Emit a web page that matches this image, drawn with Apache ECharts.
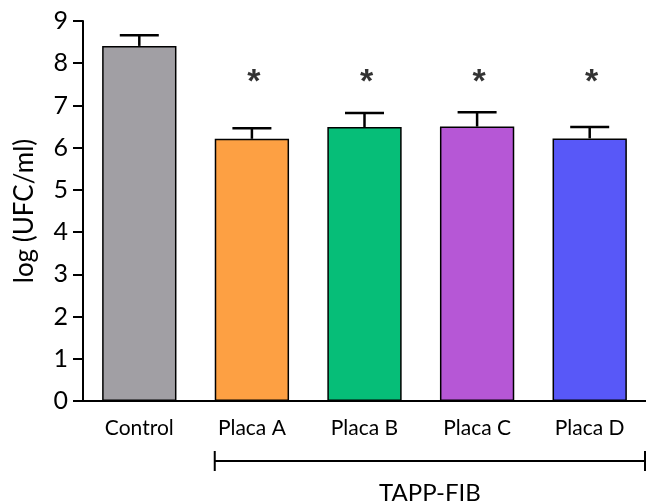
<!DOCTYPE html>
<html>
<head>
<meta charset="utf-8">
<script src="https://cdn.jsdelivr.net/npm/echarts@6/dist/echarts.min.js"></script>
<style>
  html, body { margin: 0; padding: 0; background: #fff; }
  #chart { width: 646px; height: 502px; }
</style>
</head>
<body>
<div id="chart"></div>
<script>
var groups = ['Control', 'Placa A', 'Placa B', 'Placa C', 'Placa D'];
var means = [8.41, 6.21, 6.49, 6.50, 6.22];
var errTop = [8.66, 6.46, 6.82, 6.84, 6.49];
var stars = [null, 7.65, 7.65, 7.65, 7.65];
var colors = ['#a19fa4', '#fda043', '#06be78', '#b657d6', '#5858f8'];
var yTicks = [0, 9, 1]; // min, max, step

var font = 'Lato';
var chart = echarts.init(document.getElementById('chart'));

var barData = [];
for (var i = 0; i < groups.length; i++) {
  barData.push({ value: means[i], itemStyle: { color: colors[i] } });
}
var errData = [];
for (var i = 0; i < groups.length; i++) {
  errData.push([i, means[i], errTop[i]]);
}

chart.setOption({
  animation: false,
  grid: { left: 83, right: -11, top: 21, bottom: 101 },
  xAxis: {
    type: 'category',
    data: groups,
    axisLine: { lineStyle: { color: '#000', width: 2 } },
    axisTick: { alignWithLabel: true, length: 11, lineStyle: { color: '#000', width: 2 } },
    axisLabel: { color: '#000', fontSize: 21, fontFamily: font, margin: 17 }
  },
  yAxis: {
    type: 'value',
    min: yTicks[0], max: yTicks[1], interval: yTicks[2],
    name: 'log (UFC/ml)',
    nameLocation: 'middle',
    nameGap: 45,
    nameTextStyle: { color: '#000', fontSize: 26, fontFamily: font },
    splitLine: { show: false },
    axisLine: { show: true, lineStyle: { color: '#000', width: 2 } },
    axisTick: { show: true, length: 10, lineStyle: { color: '#000', width: 2 } },
    axisLabel: { color: '#000', fontSize: 25, fontFamily: font, margin: 15 }
  },
  series: [
    {
      type: 'bar',
      data: barData,
      barWidth: '66%',
      itemStyle: { borderColor: '#000', borderWidth: 1.5 },
      z: 2
    },
    {
      type: 'custom',
      data: errData,
      z: 3,
      renderItem: function (params, api) {
        var base = api.coord([api.value(0), api.value(1)]);
        var top = api.coord([api.value(0), api.value(2)]);
        var half = 19.5;
        var st = { stroke: '#000', lineWidth: 2.5 };
        return {
          type: 'group',
          children: [
            { type: 'line', shape: { x1: base[0], y1: base[1], x2: top[0], y2: top[1] }, style: st },
            { type: 'line', shape: { x1: top[0] - half, y1: top[1], x2: top[0] + half, y2: top[1] }, style: st }
          ]
        };
      }
    },
    {
      type: 'scatter',
      data: stars,
      symbolSize: 0,
      label: {
        show: true, position: 'inside', formatter: '*',
        color: '#000', fontSize: 34, fontWeight: 'bold', fontFamily: 'Liberation Sans', offset: [2, 5]
      }
    }
  ]
});

// bracket under the TAPP-FIB plates
var bandW = chart.convertToPixel({ xAxisIndex: 0 }, 'Placa B') - chart.convertToPixel({ xAxisIndex: 0 }, 'Placa A');
var x1 = chart.convertToPixel({ xAxisIndex: 0 }, 'Placa A') - bandW * 0.33;
var x2 = 645;
var yb = 461;
chart.setOption({
  graphic: [
    { type: 'line', shape: { x1: x1, y1: yb, x2: x2, y2: yb }, style: { stroke: '#000', lineWidth: 2 } },
    { type: 'line', shape: { x1: x1, y1: yb - 10, x2: x1, y2: yb + 10 }, style: { stroke: '#000', lineWidth: 2 } },
    { type: 'line', shape: { x1: x2, y1: yb - 10, x2: x2, y2: yb + 10 }, style: { stroke: '#000', lineWidth: 2 } },
    {
      type: 'text', x: (x1 + x2) / 2, y: 493,
      style: { text: 'TAPP-FIB', fill: '#000', font: '24px ' + font, textAlign: 'center', textVerticalAlign: 'middle' }
    }
  ]
});
</script>
</body>
</html>
